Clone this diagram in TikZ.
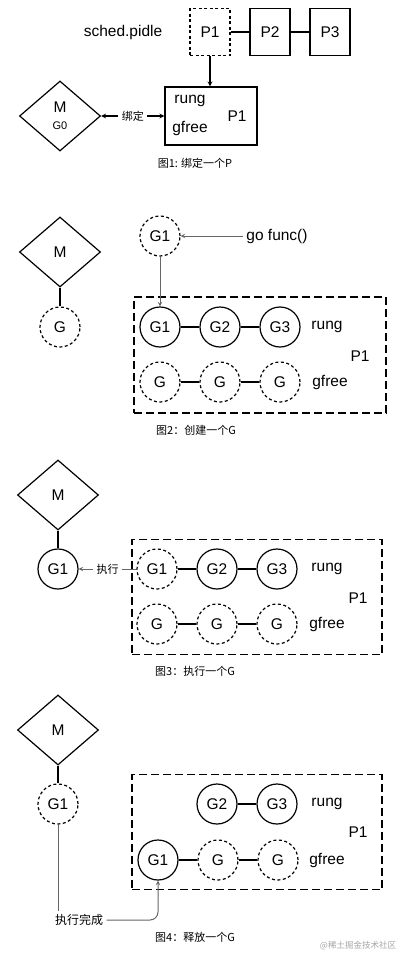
\documentclass[tikz,border=0pt]{standalone}
\usepackage{fontspec}
\setmainfont{Liberation Sans}
\newfontfamily\cjk{Noto Sans CJK SC}
\usetikzlibrary{shapes.geometric,positioning}

\begin{document}
\begin{tikzpicture}[x=1pt, y=-1pt, >=stealth, node distance=60pt,
  every node/.style={font=\fontsize{15.5}{18}\selectfont},
  pbox/.style={draw=black, line width=1.2pt, minimum width=40pt, minimum height=47pt, inner sep=0pt},
  gcirc/.style={draw=black, circle, line width=1.2pt, minimum size=40pt, inner sep=0pt},
  gfreecirc/.style={gcirc, dash pattern=on 3pt off 2.5pt},
  mnode/.style={draw=black, diamond, line width=1.2pt, minimum width=81pt, minimum height=70pt, inner sep=0pt},
  pool/.style={draw=black, line width=1.2pt, dash pattern=on 8pt off 4pt, minimum width=250pt, minimum height=115pt},
  note/.style={font=\cjk\fontsize{11}{13}\selectfont},
  figcaption/.style={font=\cjk\fontsize{11}{13}\selectfont},
  link/.style={line width=1.2pt},
  grayline/.style={draw=black!60, line width=1pt},
  grayarrow/.style={grayline, ->}]
  \useasboundingbox[fill=white] (0,0) rectangle (408,964);

  % fig 1
  \node (pidle) at (123,32) {sched.pidle};
  \node[pbox, dash pattern=on 3pt off 2.5pt] (p1idle) at (210,32) {P1};
  \node[pbox] (p2idle) [right of=p1idle] {P2};
  \node[pbox] (p3idle) [right of=p2idle] {P3};
  \draw[link] (p1idle) -- (p2idle);
  \draw[link] (p2idle) -- (p3idle);
  \node[draw=black, line width=1.2pt, minimum width=92pt, minimum height=58pt] (p1bound) at (211,116) {};
  \node (p1run) at (190,101) {rung};
  \node (p1free) at (190,128) {gfree};
  \node (p1name) at (237,116) {P1};
  \draw[->, link] (p1idle) -- (p1bound.north -| p1idle);
  \node[mnode] (m1) at (60,116) {};
  \node (m1name) at (60,107) {M};
  \node[font=\fontsize{11}{13}\selectfont] (m1g) at (60,126) {G0};
  \draw[<->, link] (m1) -- node[note, fill=white] {绑定} (p1bound);
  \node[figcaption] (cap1) at (195,163) {图1: 绑定一个P};

  % fig 2
  \node[mnode] (m2) at (60,252) {M};
  \node[gfreecirc] (g2m) at (60,327) {G};
  \draw[link] (m2) -- (g2m);
  \node[gfreecirc] (g2new) at (160,236) {G1};
  \node (gofunc) at (277,236) {go func()};
  \draw[grayarrow] (gofunc) -- (g2new);
  \node[pool, minimum width=252pt, minimum height=116pt] (pool2) at (260,355) {};
  \node[gcirc] (g2a) at (160,327) {G1};
  \node[gcirc] (g2b) [right of=g2a] {G2};
  \node[gcirc] (g2c) [right of=g2b] {G3};
  \node (run2) at (327,327) {rung};
  \node (pname2) at (360,356) {P1};
  \node[gfreecirc] (f2a) at (160,382) {G};
  \node[gfreecirc] (f2b) [right of=f2a] {G};
  \node[gfreecirc] (f2c) [right of=f2b] {G};
  \node (free2) at (330,382) {gfree};
  \draw[link] (g2a) -- (g2b) (g2b) -- (g2c) (f2a) -- (f2b) (f2b) -- (f2c);
  \draw[grayarrow] (g2new) -- (g2a);
  \node[figcaption] (cap2) at (196,430) {图2：创建一个G};

  % fig 3
  \node[mnode] (m3) at (58,495) {M};
  \node[gcirc] (g3m) at (58,569) {G1};
  \draw[link] (m3) -- (g3m);
  \node[pool] (pool3) at (257,597) {};
  \node[gfreecirc] (g3a) at (157,569) {G1};
  \node[gcirc] (g3b) [right of=g3a] {G2};
  \node[gcirc] (g3c) [right of=g3b] {G3};
  \node (run3) at (327,569) {rung};
  \node (pname3) at (358,598) {P1};
  \node[gfreecirc] (f3a) at (157,624) {G};
  \node[gfreecirc] (f3b) [right of=f3a] {G};
  \node[gfreecirc] (f3c) [right of=f3b] {G};
  \node (free3) at (327,624) {gfree};
  \draw[link] (g3a) -- (g3b) (g3b) -- (g3c) (f3a) -- (f3b) (f3b) -- (f3c);
  \draw[grayarrow] (g3a) -- node[note, fill=white] {执行} (g3m);
  \node[figcaption] (cap3) at (195,671) {图3：执行一个G};

  % fig 4
  \node[mnode] (m4) at (58,730) {M};
  \node[gfreecirc] (g4m) at (58,804) {G1};
  \draw[link] (m4) -- (g4m);
  \node[pool] (pool4) at (257,832) {};
  \node[gcirc] (g4b) at (217,804) {G2};
  \node[gcirc] (g4c) [right of=g4b] {G3};
  \node (run4) at (327,804) {rung};
  \node (pname4) at (358,832) {P1};
  \node[gcirc] (f4a) at (158,860) {G1};
  \node[gfreecirc] (f4b) [right of=f4a] {G};
  \node[gfreecirc] (f4c) [right of=f4b] {G};
  \node (free4) at (327,860) {gfree};
  \draw[link] (g4b) -- (g4c) (f4a) -- (f4b) (f4b) -- (f4c);
  \node[note, font=\cjk\fontsize{12}{14}\selectfont] (done) at (79,920) {执行完成};
  \draw[grayline] (g4m) -- (g4m |- done.north);
  \draw[grayarrow, rounded corners=8pt] (done) -| (f4a);
  \node[figcaption] (cap4) at (195,937) {图4：释放一个G};
  \node[font=\cjk\fontsize{8.5}{10}\selectfont, text=black!35] (mark) at (358,946) {@稀土掘金技术社区};
\end{tikzpicture}
\end{document}
